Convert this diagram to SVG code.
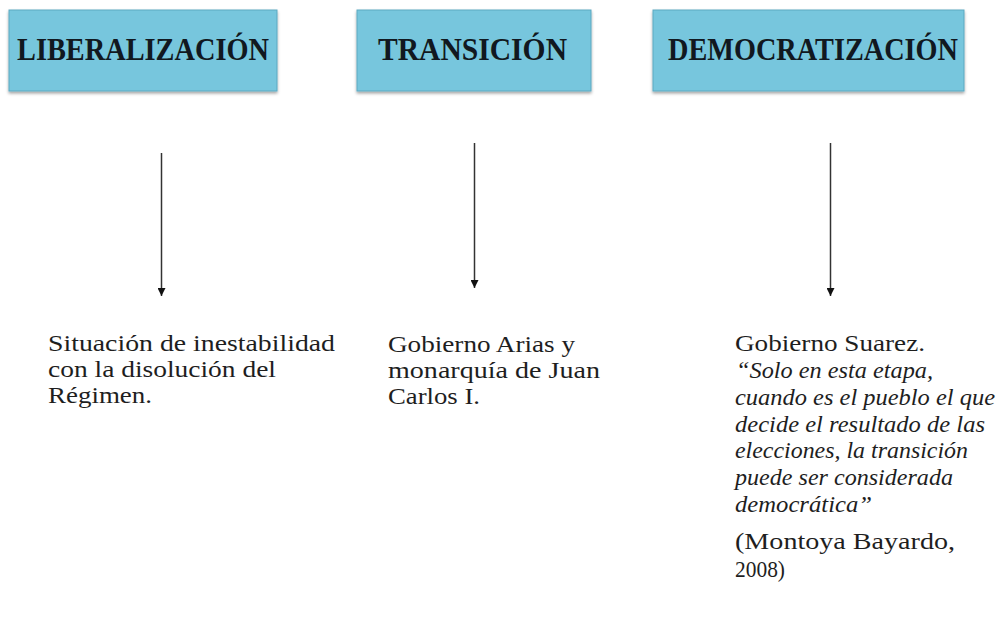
<svg xmlns="http://www.w3.org/2000/svg" width="998" height="627" viewBox="0 0 998 627">
<style>
.box{fill:#77c6dd;stroke:#5ca9c1;stroke-width:1;filter:url(#sh)}
.hd{font-family:"Liberation Serif","DejaVu Serif",serif;font-weight:bold;font-size:31px;fill:#111820}
.tx{font-family:"Liberation Serif","DejaVu Serif",serif;font-size:22.5px;fill:#1e1e1e}
.it{font-style:italic}
.ar{stroke:#333;stroke-width:1.5;fill:none;marker-end:url(#ah)}
</style>
<defs>
<filter id="sh" x="-5%" y="-10%" width="110%" height="130%">
<feDropShadow dx="0" dy="2" stdDeviation="1.5" flood-color="#000" flood-opacity="0.35"/>
</filter>
<marker id="ah" viewBox="0 0 10 10" refX="10" refY="5" markerWidth="9" markerHeight="8" markerUnits="userSpaceOnUse" orient="auto">
<path d="M0,0 L10,5 L0,10 z" fill="#111"/>
</marker>
</defs>
<rect width="998" height="627" fill="#fff"/>
<g id="liberalizacion">
<rect class="box" x="9" y="10" width="268" height="81"/>
<text class="hd" x="17" y="60" textLength="252" lengthAdjust="spacingAndGlyphs">LIBERALIZACIÓN</text>
</g>
<g id="transicion">
<rect class="box" x="357" y="10" width="234" height="81"/>
<text class="hd" x="378" y="60" textLength="189" lengthAdjust="spacingAndGlyphs">TRANSICIÓN</text>
</g>
<g id="democratizacion">
<rect class="box" x="653" y="10" width="311" height="81"/>
<text class="hd" x="668" y="60" textLength="290" lengthAdjust="spacingAndGlyphs">DEMOCRATIZACIÓN</text>
</g>
<g id="connectors">
<line class="ar" x1="161.5" y1="153" x2="161.5" y2="296"/>
<line class="ar" x1="474.5" y1="143" x2="474.5" y2="288"/>
<line class="ar" x1="830.5" y1="143" x2="830.5" y2="296"/>
</g>
<g id="texto-liberalizacion">
<text class="tx" x="48" y="351" textLength="287" lengthAdjust="spacingAndGlyphs">Situación de inestabilidad</text>
<text class="tx" x="48" y="377" textLength="228" lengthAdjust="spacingAndGlyphs">con la disolución del</text>
<text class="tx" x="48" y="403" textLength="104" lengthAdjust="spacingAndGlyphs">Régimen.</text>
</g>
<g id="texto-transicion">
<text class="tx" x="388" y="352" textLength="187" lengthAdjust="spacingAndGlyphs">Gobierno Arias y</text>
<text class="tx" x="388" y="378" textLength="212" lengthAdjust="spacingAndGlyphs">monarquía de Juan</text>
<text class="tx" x="388" y="404" textLength="92" lengthAdjust="spacingAndGlyphs">Carlos I.</text>
</g>
<g id="texto-democratizacion">
<text class="tx" x="735" y="351" textLength="190" lengthAdjust="spacingAndGlyphs">Gobierno Suarez.</text>
<text class="tx it" x="736" y="378" textLength="197" lengthAdjust="spacingAndGlyphs">“Solo en esta etapa,</text>
<text class="tx it" x="735" y="405" textLength="260" lengthAdjust="spacingAndGlyphs">cuando es el pueblo el que</text>
<text class="tx it" x="735" y="432" textLength="250" lengthAdjust="spacingAndGlyphs">decide el resultado de las</text>
<text class="tx it" x="735" y="458" textLength="233" lengthAdjust="spacingAndGlyphs">elecciones, la transición</text>
<text class="tx it" x="735" y="485" textLength="218" lengthAdjust="spacingAndGlyphs">puede ser considerada</text>
<text class="tx it" x="735" y="512" textLength="137" lengthAdjust="spacingAndGlyphs">democrática”</text>
<text class="tx" x="735" y="549" textLength="220" lengthAdjust="spacingAndGlyphs">(Montoya Bayardo,</text>
<text class="tx" x="735" y="577" textLength="50" lengthAdjust="spacingAndGlyphs">2008)</text>
</g>
</svg>
